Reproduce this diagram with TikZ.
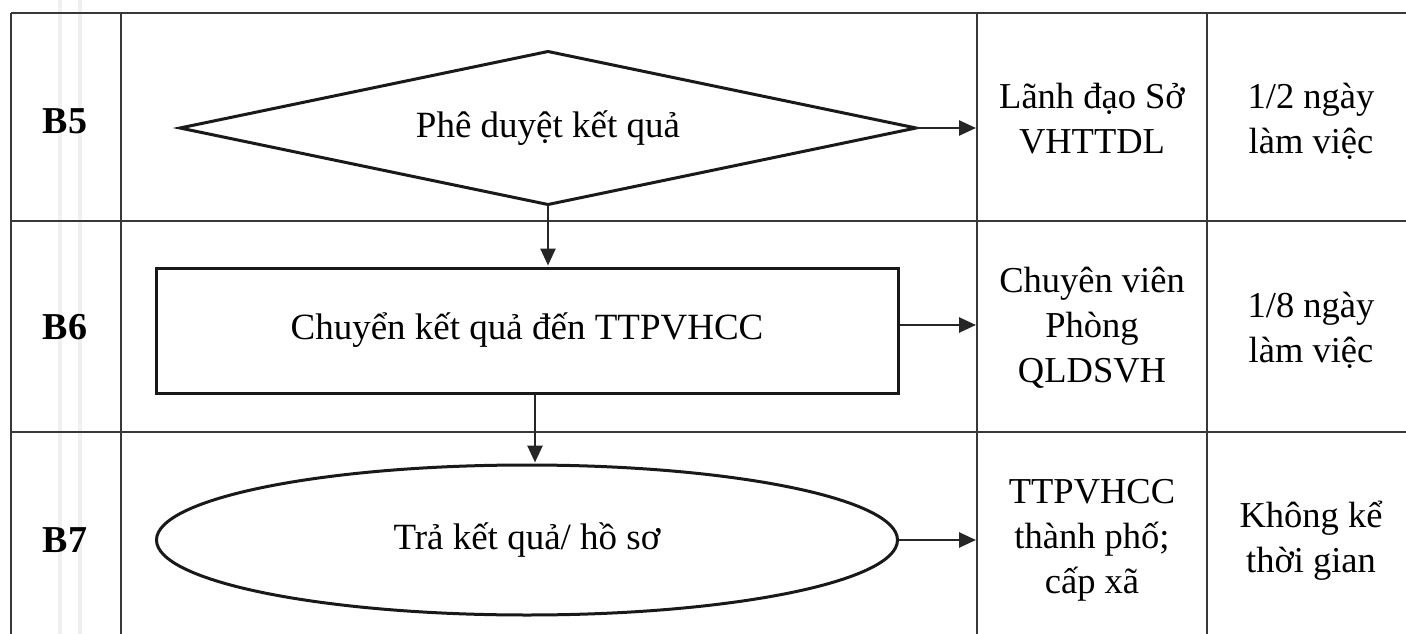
\documentclass[tikz,border=0pt]{standalone}
\usepackage{fontspec}
\setmainfont{Liberation Serif}
\usetikzlibrary{shapes.geometric,arrows.meta,calc}

\begin{document}
\begin{tikzpicture}[x=1pt,y=-1pt,
  grid/.style={draw=black!78, line width=2pt},
  flow/.style={draw=black!90, line width=3pt, inner sep=0pt, font=\fontsize{37}{44}\selectfont},
  link/.style={draw=black!85, line width=2.6pt, -{Triangle[length=17pt,width=15pt]}, shorten >=1pt},
  cell/.style={align=center, anchor=base, inner sep=0pt, font=\fontsize{36.5}{45}\selectfont},
  steplabel/.style={anchor=base, inner sep=0pt, font=\fontsize{38}{44}\selectfont\bfseries},
]
\useasboundingbox (0,0) rectangle (1406,634);
\fill[white] (0,0) rectangle (1406,634);

% faint guide bands in the step column
\draw[black!6, line width=4pt] (60,0) -- (60,634);
\draw[black!6, line width=4pt] (80,0) -- (80,634);

% table rules
\draw[grid] (11,13) -- (1406,13);
\draw[grid] (11,221) -- (1406,221);
\draw[grid] (11,432) -- (1406,432);
\draw[grid] (11,13) -- (11,634);
\draw[grid] (121,13) -- (121,634);
\draw[grid] (977,13) -- (977,634);
\draw[grid] (1207,13) -- (1207,634);
\coordinate (who) at (977,0);

% step numbers
\node[steplabel] (b5) at (65,133) {B5};
\node[steplabel] (b6) at (65,339) {B6};
\node[steplabel] (b7) at (65,552) {B7};

% flow shapes (the decision box is drawn through the corners of its frame node)
\node[flow, draw=none, rectangle, minimum width=733pt, minimum height=150pt] (approve) at (548,128) {Phê duyệt kết quả};
\draw[flow, line join=miter] (approve.west) -- (approve.north) -- (approve.east) -- (approve.south) -- cycle;
\node[flow, rectangle, minimum width=742pt, minimum height=125pt] (send) at (527,330.5) {Chuyển kết quả đến TTPVHCC};
\node[flow, ellipse, minimum width=741pt, minimum height=150pt] (return) at (527,540) {Trả kết quả/ hồ sơ};

% connectors
\draw[link] (approve.south) -- (approve.south |- send.north);
\draw[link] ([xshift=8pt]send.south) -- ([xshift=8pt]send.south |- return.north);
\draw[link] (approve.east) -- (approve.east -| who);
\draw[link] ([yshift=5.5pt]send.east) -- ([yshift=5.5pt]send.east -| who);
\draw[link] (return.east) -- (return.east -| who);

% responsible party and time columns (anchored on the last line's baseline)
\node[cell] (who5) at (1092,153) {Lãnh đạo Sở\\VHTTDL};
\node[cell] (time5) at (1311,153) {1/2 ngày\\làm việc};
\node[cell] (who6) at (1092,382) {Chuyên viên\\Phòng\\QLDSVH};
\node[cell] (time6) at (1311,362) {1/8 ngày\\làm việc};
\node[cell] (who7) at (1092,593) {TTPVHCC\\thành phố;\\cấp xã};
\node[cell] (time7) at (1311,572) {Không kể\\thời gian};
\end{tikzpicture}
\end{document}
